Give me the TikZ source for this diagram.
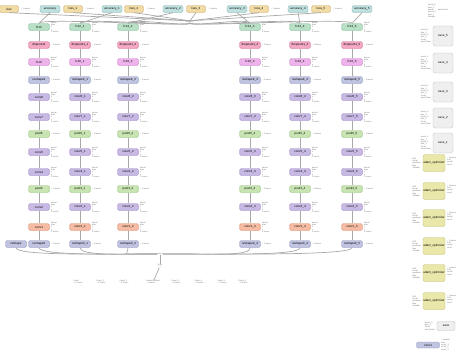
\documentclass[tikz,border=0pt]{standalone}
\usepackage{fontspec}
\setmainfont{Liberation Sans}
\definecolor{lossfill}{HTML}{F2DCA6}\definecolor{lossline}{HTML}{C9A560}
\definecolor{accfill}{HTML}{BFE0DE}\definecolor{accline}{HTML}{80B4B0}
\definecolor{fcfill}{HTML}{B9E0C6}\definecolor{fcline}{HTML}{7EB893}
\definecolor{dropfill}{HTML}{F3A8C3}\definecolor{dropline}{HTML}{D16B93}
\definecolor{densefill}{HTML}{EDB3EA}\definecolor{denseline}{HTML}{C27CC0}
\definecolor{shapefill}{HTML}{C0C4E0}\definecolor{shapeline}{HTML}{8D91B9}
\definecolor{convfill}{HTML}{C8B9E4}\definecolor{convline}{HTML}{9782C2}
\definecolor{poolfill}{HTML}{C8E4B2}\definecolor{poolline}{HTML}{90BF73}
\definecolor{firstfill}{HTML}{F5BCA3}\definecolor{firstline}{HTML}{DA8B6B}
\definecolor{savefill}{HTML}{EFEFEF}\definecolor{saveline}{HTML}{BDBDBD}
\definecolor{optfill}{HTML}{E9E7AA}\definecolor{optline}{HTML}{C3BF70}
\definecolor{wiregray}{HTML}{A8A8A8}\definecolor{notegray}{HTML}{707070}
\tikzset{
  op/.style={rounded corners=1.6pt, minimum width=21pt, minimum height=7pt,
    inner sep=0pt, line width=0.35pt, font=\fontsize{3}{3}\selectfont},
  lossop/.style={op, minimum width=19pt, fill=lossfill, draw=lossline},
  accop/.style={op, minimum width=20pt, fill=accfill, draw=accline},
  fcop/.style={op, fill=fcfill, draw=fcline},
  dropop/.style={op, fill=dropfill, draw=dropline},
  denseop/.style={op, fill=densefill, draw=denseline},
  shapeop/.style={op, fill=shapefill, draw=shapeline},
  convop/.style={op, fill=convfill, draw=convline},
  poolop/.style={op, fill=poolfill, draw=poolline},
  firstop/.style={op, fill=firstfill, draw=firstline},
  saveop/.style={op, minimum width=20pt, minimum height=20pt, fill=savefill, draw=saveline},
  optop/.style={op, minimum width=22pt, minimum height=17pt, fill=optfill, draw=optline},
  wire/.style={draw=wiregray, line width=0.7pt},
  note/.style={font=\fontsize{2}{2.3}\selectfont, text=notegray, align=left, inner sep=0pt},
}
\begin{document}
\begin{tikzpicture}[x=1pt, y=-1pt]
  \useasboundingbox (0,0) rectangle (474,360);
  % top row: loss and accuracy per tower
  \foreach \xl/\xa/\sf [count=\k] in {9/50/{}, 73/112/\_1, 134/173/\_2,
      196/237/\_3, 259/298/\_4, 321/362/\_5} {
    \node[lossop] (loss\k) at (\xl,9) {loss\sf};
    \node[accop] (acc\k) at (\xa,9) {accuracy\sf};
    \node[note, anchor=west] at (\xl+12,9) {-- 1 tensor};
  }
  \node[note] (hub) at (190,22) {weight\_0};
  % the six towers
  \foreach \x/\sf [count=\c] in {39/{}, 80/\_1, 128/\_2, 250/\_3, 300/\_4, 352/\_5} {
    \foreach \y/\nm/\st/\side [count=\r] in {
        27/fc12/fcop/{kernel\\bias\\x\\y\\1 tensor},
        45/dropout11/dropop/{-- 1 tensor},
        62/fc10/denseop/{kernel\\bias\\x\\y\\1 tensor},
        80/reshape9/shapeop/{-- 1 tensor},
        97/conv8/convop/{kernel\\bias\\x\\y\\1 tensor},
        117/conv7/convop/{kernel\\bias\\x\\y\\1 tensor},
        134/pool6/poolop/{-- 1 tensor},
        152/conv5/convop/{kernel\\bias\\x\\y\\1 tensor},
        172/conv4/convop/{kernel\\bias\\x\\y\\1 tensor},
        189/pool3/poolop/{-- 1 tensor},
        207/conv2/convop/{kernel\\bias\\x\\y\\1 tensor},
        227/conv1/firstop/{kernel\\bias\\x\\y\\1 tensor},
        244/reshape0/shapeop/{-- 1 tensor}} {
      \node[\st] (n\r-\c) at (\x,\y) {\nm\sf};
      \node[note, anchor=west] at (\x+12,\y) {\side};
    }
    \foreach \r [evaluate=\r as \n using int(\r+1)] in {1,...,12}
      \draw[wire] (n\r-\c) -- (n\n-\c);
    \draw[wire] (n1-\c.north) -- (acc\c.south);
    \draw[wire] (n1-\c.north) .. controls +(0,-6) and +(0,4) .. (hub.south);
  }
  \foreach \k in {1,...,6}
    \draw[wire] (loss\k.south) -- (hub.north);
  % inputs into the towers
  \node[shapeop] (inp) at (16,244) {reshape};
  \node[note] (add) at (160,254) {add\_6};
  \node[note] (sum) at (160,266) {Sum\\[-0.4pt]-- 1};
  \draw[wire] (inp.south) .. controls +(0,8) and +(-60,0) .. (add.west);
  \foreach \c in {1,2,3}
    \draw[wire] (n13-\c.south) .. controls +(0,8) and +(-40,0) .. (add.west);
  \foreach \c in {4,5,6}
    \draw[wire] (n13-\c.south) .. controls +(0,8) and +(60,0) .. (add.east);
  \draw[wire] (add) -- (sum);
  \foreach \x/\nm [count=\i] in {78/Const, 101/Const\_1, 124/Const\_2, 153/IteratorGetNext,
      176/Const\_3, 199/Const\_4, 222/Const\_5, 243/Const\_6}
    \node[note, anchor=north] (b\i) at (\x,280) {\nm\\-- 1 tensor};
  \draw[wire] (sum) -- (b4);
  % savers and optimizers on the right
  \node[note] (ckpt) at (443,10) {save/Const};
  \node[note, anchor=east] at (436,11) {kernel\_5\\bias\_5\\kernel\\kernel\_3\\bias\_1\\Variable};
  \foreach \y/\nm in {36/save\_5, 63/save\_4, 92/save\_3, 118/save\_2, 143/save\_1} {
    \node[saveop] (s\y) at (443,\y) {\nm};
    \node[note, anchor=east] at (431,\y) {kernel\_1\\bias\_1\\kernel\_2\\bias\_2\\Const\\save/Const};
  }
  \foreach \y [count=\i] in {163,191,218,246,273,301} {
    \node[optop] (o\i) at (434,\y) {adam\_optimizer};
    \node[note, anchor=east] at (421,\y) {fc12\\kernel\\gradients\\bias\\Variable};
    \node[note, anchor=west] at (447,\y-2) {-- 1 tensor\\fc10\\conv8\\conv7};
  }
  \node[op, minimum width=18pt, minimum height=9pt, fill=savefill, draw=saveline]
    (save) at (446,326) {save};
  \node[note, anchor=east] at (435,326) {kernel\_4\\bias\_4\\Const\\save/Const};
  \node[shapeop, minimum width=23pt, minimum height=6pt] (init) at (428,345) {conv1};
  \node[note, anchor=west] at (441,345) {-- weights\\bias\\conv1\_1\\conv1\_2\\conv1\_3};
\end{tikzpicture}
\end{document}
